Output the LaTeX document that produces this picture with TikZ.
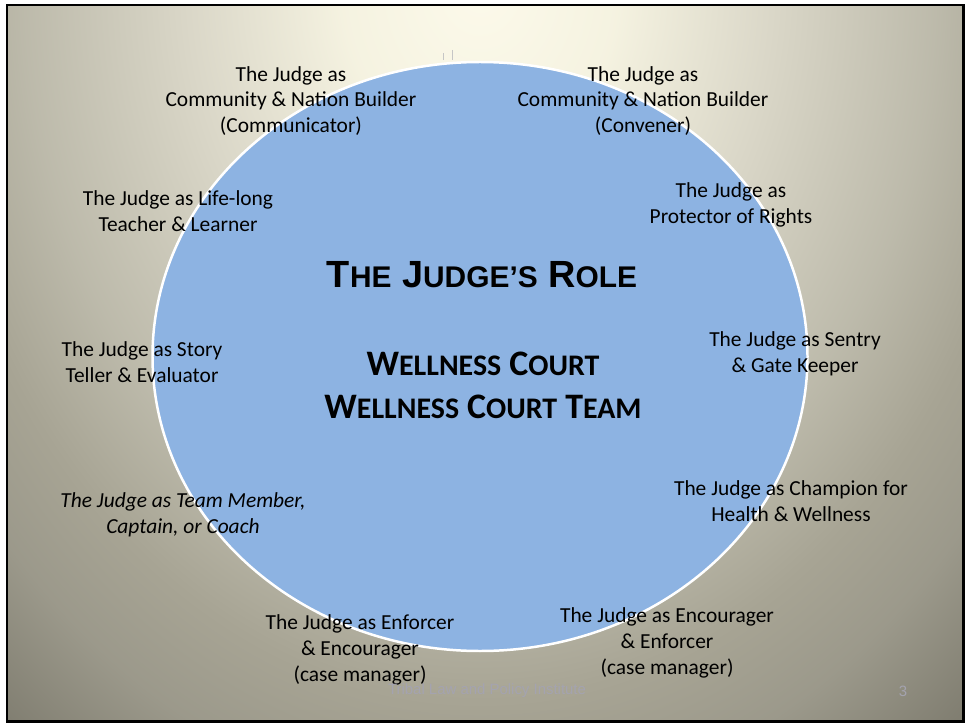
\documentclass[tikz,border=0pt]{standalone}
\usepackage{fontspec}
\setmainfont{Carlito}
\newfontfamily\arialfont{Liberation Sans}
\usepackage{tikz}

\definecolor{ballblue}{HTML}{8DB3E2}
\definecolor{footgrey}{HTML}{A4A3AF}
\definecolor{bgdark}{rgb}{0.48,0.47,0.42}
\pgfdeclareradialshading{slidebg}{\pgfpoint{0bp}{0bp}}{%
  rgb(0bp)=(0.99,0.98,0.92); rgb(4.5bp)=(0.96,0.95,0.88);
  rgb(9.5bp)=(0.855,0.843,0.784); rgb(14.8bp)=(0.74,0.73,0.67);
  rgb(18.2bp)=(0.655,0.643,0.58); rgb(20.9bp)=(0.61,0.60,0.545);
  rgb(25bp)=(0.48,0.47,0.42); rgb(50bp)=(0.48,0.47,0.42)}

% fake small caps: size, letters
\newcommand{\lowcap}[2]{{\fontsize{#1}{#1}\selectfont #2}}

\tikzset{
  role/.style={align=center, text=black, inner sep=0pt,
    font=\fontsize{21.5}{26}\selectfont},
  heading/.style={anchor=base, inner sep=0pt, text=black},
  footnote/.style={text=footgrey, inner sep=0pt,
    font=\arialfont\fontsize{15}{18}\selectfont}
}

\begin{document}
\begin{tikzpicture}[x=1bp, y=-1bp]
    \useasboundingbox (0,0) rectangle (967,723);

    % Slide background
    \begin{scope}
        \clip (7,5) rectangle (963,721);
        \fill[bgdark] (7,5) rectangle (963,721);
        \shade[shading=slidebg] (480,-20) ellipse (770 and 990);
    \end{scope}
    \draw[black, line width=3] (7,5) rectangle (963,721);

    % Stray marks above the circle
    \draw[gray!45, line width=0.8] (443,53) -- (443,60);
    \draw[gray!45, line width=0.8] (452,50) -- (452,60);

    % Central circle
    \draw[white, fill=ballblue, line width=2.5] (480,356.5) ellipse (327.5 and 294.5);

    % Centre titles
    \node[heading] (title) at (482,287)
        {\arialfont\bfseries\fontsize{38}{42}\selectfont
         T\lowcap{30}{HE} J\lowcap{30}{UDGE’S} R\lowcap{30}{OLE}};
    \node[heading] (court) at (483,375)
        {\bfseries\fontsize{36}{40}\selectfont
         W\lowcap{30}{ELLNESS} C\lowcap{30}{OURT}};
    \node[heading] (courtteam) at (483,418)
        {\bfseries\fontsize{36}{40}\selectfont
         W\lowcap{30}{ELLNESS} C\lowcap{30}{OURT} T\lowcap{30}{EAM}};

    % The roles round the circle
    \node[role] (communicator) at (291,101)
        {The Judge as\\Community \& Nation Builder\\(Communicator)};
    \node[role] (convener) at (643,101)
        {The Judge as\\Community \& Nation Builder\\(Convener)};
    \node[role] (teacher) at (178,211)
        {The Judge as Life-long\\Teacher \& Learner};
    \node[role] (protector) at (731,205)
        {The Judge as\\Protector of Rights};
    \node[role] (storyteller) at (142,362)
        {The Judge as Story\\Teller \& Evaluator};
    \node[role] (sentry) at (795,354)
        {The Judge as Sentry\\\& Gate Keeper};
    \node[role, font=\fontsize{21.5}{26}\selectfont\itshape] (teammember) at (183,515)
        {The Judge as Team Member,\\Captain, or Coach};
    \node[role] (champion) at (791,501)
        {The Judge as Champion for\\Health \& Wellness};
    \node[role] (enforcer) at (360,650)
        {The Judge as Enforcer\\\& Encourager\\(case manager)};
    \node[role] (encourager) at (667,643)
        {The Judge as Encourager\\\& Enforcer\\(case manager)};

    % Footer
    \node[footnote] (footer) at (487,691) {Tribal Law and Policy Institute};
    \node[footnote] (pagenum) at (903,691) {3};
\end{tikzpicture}
\end{document}
